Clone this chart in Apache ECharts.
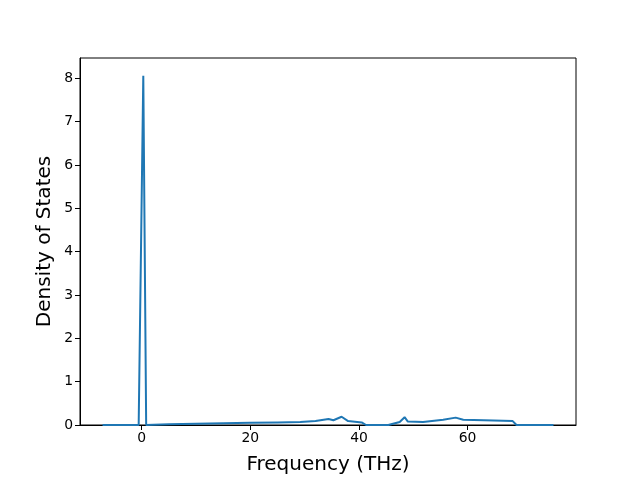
<!DOCTYPE html>
<html>
<head>
<meta charset="utf-8">
<script src="https://cdn.jsdelivr.net/npm/echarts@6/dist/echarts.min.js"></script>
<style>
  html, body { margin: 0; padding: 0; background: #fff; }
  #chart { width: 640px; height: 480px; }
</style>
</head>
<body>
<div id="chart"></div>
<script>
// phonon DOS
const freq = [-7.2, -0.55, 0.3, 0.83, 5, 10, 15, 20, 25, 29.2, 32, 34.4, 35.3, 36.8, 38, 40.5, 41.3,
  45.4, 47.5, 48.4, 49, 51.8, 52.1, 55.5, 57.8, 59.2, 63, 68.3, 69, 75.8];
const dos = [0, 0, 8.06, 0, 0.02, 0.03, 0.04, 0.05, 0.06, 0.07, 0.09, 0.14, 0.11, 0.19, 0.09, 0.06, 0,
  0, 0.07, 0.18, 0.08, 0.07, 0.08, 0.12, 0.17, 0.12, 0.11, 0.09, 0, 0];
const xTicks = [0, 20, 40, 60];
const yTicks = [0, 1, 2, 3, 4, 5, 6, 7, 8];

const font = 'DejaVu Sans';
const chart = echarts.init(document.getElementById('chart'));

const option = {
  animation: false,
  grid: {
    left: 80, right: 64, top: 58, bottom: 53,
    show: true, borderColor: '#000', borderWidth: 1, backgroundColor: 'transparent'
  },
  xAxis: {
    type: 'value',
    min: -11.35,
    max: 79.95,
    name: 'Frequency (THz)',
    nameLocation: 'middle',
    nameGap: 30,
    nameTextStyle: { fontFamily: font, fontSize: 20, color: '#000' },
    axisLine: { show: true, onZero: false, lineStyle: { color: '#000', width: 1 } },
    axisTick: { show: true, length: 5, customValues: xTicks, lineStyle: { color: '#000' } },
    axisLabel: { customValues: xTicks, fontFamily: font, fontSize: 13.9, color: '#000', margin: 6 },
    splitLine: { show: false }
  },
  yAxis: {
    type: 'value',
    min: 0,
    max: 8.47,
    name: 'Density of States',
    nameLocation: 'middle',
    nameGap: 25,
    nameMoveOverlap: false,
    nameTextStyle: { fontFamily: font, fontSize: 20, color: '#000' },
    axisLine: { show: true, onZero: false, lineStyle: { color: '#000', width: 1 } },
    axisTick: { show: true, length: 5, customValues: yTicks, lineStyle: { color: '#000' } },
    axisLabel: { customValues: yTicks, fontFamily: font, fontSize: 13.9, color: '#000', margin: 7 },
    splitLine: { show: false }
  },
  series: [{
    type: 'line',
    data: freq.map((f, i) => [f, dos[i]]),
    showSymbol: false,
    lineStyle: { color: '#1f77b4', width: 2 },
    itemStyle: { color: '#1f77b4' }
  }]
};

chart.setOption(option);
</script>
</body>
</html>
